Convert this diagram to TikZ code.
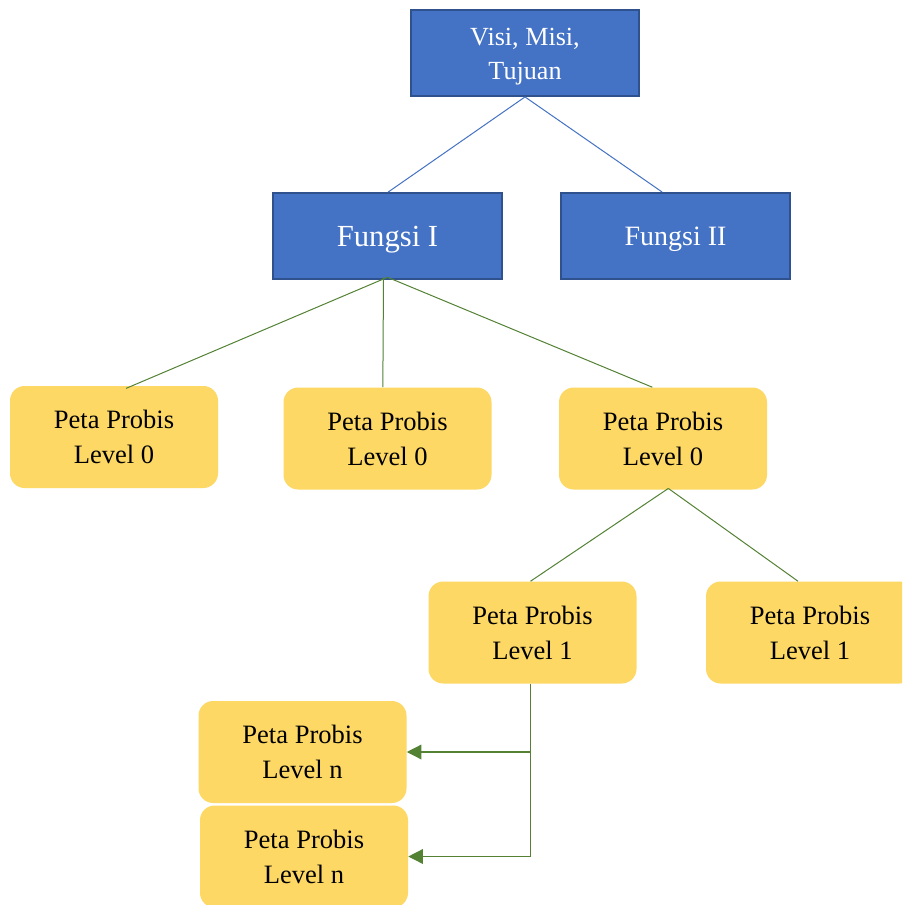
\documentclass[tikz,border=0pt]{standalone}
\usepackage{fontspec}
\setmainfont{Liberation Serif}
\usetikzlibrary{arrows.meta}
\definecolor{bluefill}{HTML}{4472C4}
\definecolor{blueedge}{HTML}{2F528F}
\definecolor{yellowfill}{HTML}{FDD865}
\definecolor{greenline}{HTML}{548235}
\tikzset{
  bluebox/.style={draw=blueedge, line width=1.4pt, fill=bluefill,
    minimum width=171.5pt, minimum height=64.5pt, inner sep=0pt},
  bluetext/.style={text=white, inner sep=0pt, align=center},
  yellowbox/.style={fill=yellowfill, rounded corners=11pt, text=black,
    minimum width=156pt, minimum height=76.5pt, inner sep=0pt, align=center,
    font=\fontsize{19.9}{26.2}\selectfont},
  blueline/.style={draw=bluefill, line width=0.75pt},
  greenline/.style={draw=greenline, line width=0.75pt},
  greenarrow/.style={draw=greenline, line width=1pt, -{Triangle[length=11pt,width=11pt]}}
}
\begin{document}
\begin{tikzpicture}[x=0.75pt,y=-0.75pt]
\path[use as bounding box, clip] (0,0) rectangle (902,905);
\fill[white] (0,0) rectangle (902,905);

\node[bluebox] (visi) at (525,53) {};
\node[bluetext, font=\fontsize{19.6}{25.5}\selectfont] (visit) at ([yshift=-3pt]visi.center) {Visi, Misi,\\Tujuan};
\node[bluebox] (f1) at (387.5,236) {};
\node[bluetext, font=\fontsize{23}{27}\selectfont] (f1t) at ([yshift=-3pt]f1.center) {Fungsi I};
\node[bluebox] (f2) at (675.5,236) {};
\node[bluetext, font=\fontsize{21}{25}\selectfont] (f2t) at ([yshift=-2.5pt]f2.center) {Fungsi II};

\node[yellowbox] (a0) at (114,437) {Peta Probis\\Level 0};
\node[yellowbox] (b0) at (387.5,438.5) {Peta Probis\\Level 0};
\node[yellowbox] (c0) at (663,438.5) {Peta Probis\\Level 0};

\node[yellowbox] (a1) at (532.5,632.5) {Peta Probis\\Level 1};
\node[yellowbox] (b1) at (810,632.5) {Peta Probis\\Level 1};

\node[yellowbox] (an) at (302.5,752) {Peta Probis\\Level n};
\node[yellowbox] (bn) at (304,856.5) {Peta Probis\\Level n};

\draw[blueline] (visi.south) -- ([xshift=0.5]f1.north);
\draw[blueline] (visi.south) -- ([xshift=-10]f2.north);

\draw[greenline] ([yshift=2]f1.south) -- ([xshift=9,yshift=-2]a0.north);
\draw[greenline] ([xshift=-3,yshift=2]f1.south) -- ([xshift=-3.5]b0.north);
\draw[greenline] ([yshift=2]f1.south) -- ([xshift=-8]c0.north);

\draw[greenline] ([xshift=4,yshift=1]c0.south) -- ([xshift=-1.5]a1.north);
\draw[greenline] ([xshift=4,yshift=1]c0.south) -- ([xshift=-9]b1.north);

\draw[greenarrow] ([xshift=-1.5]a1.south) |- (an.east);
\draw[greenarrow] ([xshift=-1.5]a1.south) |- (bn.east);
\end{tikzpicture}
\end{document}
